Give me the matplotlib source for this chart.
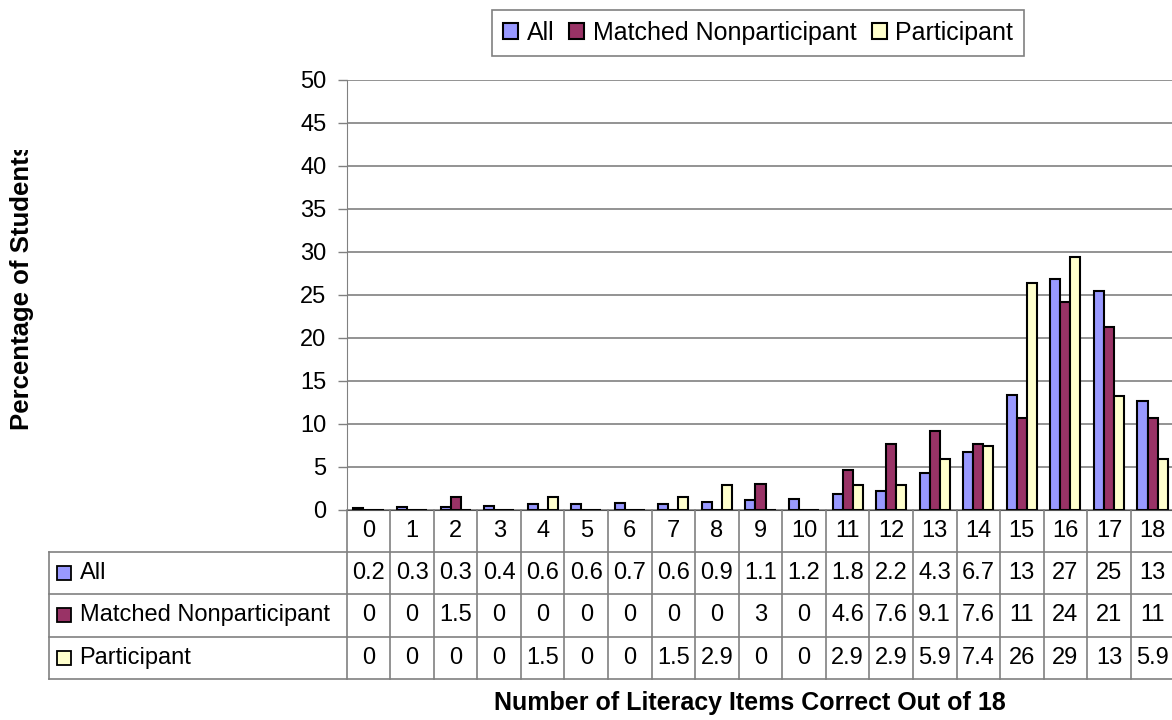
import numpy as np
import matplotlib.pyplot as plt
from matplotlib.transforms import Bbox

plt.rcParams['font.family'] = ['Liberation Sans', 'DejaVu Sans']

categories = list(range(19))
series_names = ["All", "Matched Nonparticipant", "Participant"]
all_pct = [0.2, 0.3, 0.3, 0.4, 0.6, 0.6, 0.7, 0.6, 0.9, 1.1, 1.2, 1.8, 2.2, 4.3, 6.7, 13.3, 26.8, 25.4, 12.6]
matched_pct = [0, 0, 1.5, 0, 0, 0, 0, 0, 0, 3.0, 0, 4.6, 7.6, 9.1, 7.6, 10.6, 24.2, 21.2, 10.6]
participant_pct = [0, 0, 0, 0, 1.5, 0, 0, 1.5, 2.9, 0, 0, 2.9, 2.9, 5.9, 7.4, 26.4, 29.4, 13.2, 5.9]
colors = ["#9999FF", "#993366", "#FFFFCC"]

W, H = 1172, 720
GRID = "#808080"

def fx(x):
    return x / W

def fy(y):
    return 1 - y / H

fig = plt.figure(figsize=(W / 100, H / 100), dpi=100)

# plot area (pixel layout)
left, right, top, base = 346.7, 1174.3, 80, 509.5
ax = fig.add_axes([fx(left), fy(base), (right - left) / W, (base - top) / H])
ax.set_xlim(-0.5, 18.5)
ax.set_ylim(0, 50)

x = np.arange(len(categories))
bw = 0.23
series = [all_pct, matched_pct, participant_pct]
handles = []
for i, (vals, c) in enumerate(zip(series, colors)):
    b = ax.bar(x + (i - 1) * bw, vals, bw, color=c, edgecolor="black", linewidth=1.5, zorder=3)
    handles.append(b)

ax.set_yticks(range(0, 51, 5))
ax.yaxis.grid(True, color=GRID, linewidth=1.2)
ax.set_axisbelow(True)
ax.set_xticks([])
for s in ["top", "right"]:
    ax.spines[s].set_visible(False)
ax.spines["left"].set_color(GRID)
ax.spines["bottom"].set_color("#555555")
ax.tick_params(axis="y", direction="out", length=6.5, color=GRID, width=1, pad=8, labelsize=17)

# data table below the plot
tleft, tbot = 48.6, 679
colw = (right - left) / 19
x0 = -0.5 - (left - tleft) / colw
axt = fig.add_axes([fx(tleft), fy(tbot), (right - tleft) / W, (tbot - base) / H])
axt.set_xlim(x0, 18.5)
axt.set_ylim(4, 0)
axt.axis("off")

for c in categories:
    axt.plot([c - 0.5, c - 0.5], [0, 4], color=GRID, lw=1.2, clip_on=False)
axt.plot([x0, x0], [1, 4], color=GRID, lw=1.2, clip_on=False)
for r in [1, 2, 3, 4]:
    axt.plot([x0, 18.5], [r, r], color=GRID, lw=1.2, clip_on=False)

for c in categories:
    axt.text(c, 0.5, str(c), ha="center", va="center", fontsize=17)
for r, (name, vals, col) in enumerate(zip(series_names, series, colors), start=1):
    axt.plot(x0 + 15.2 / colw, r + 0.5, marker="s", markersize=10, markerfacecolor=col,
             markeredgecolor="black", markeredgewidth=1.3, linestyle="none", clip_on=False)
    axt.text(x0 + 31 / colw, r + 0.5, name, ha="left", va="center", fontsize=17)
    for c, v in zip(categories, vals):
        axt.text(c, r + 0.5, "%.2g" % v, ha="center", va="center", fontsize=17)

# legend
leg = fig.legend(handles, series_names, loc="center", bbox_to_anchor=(fx(758), fy(33)),
                 ncol=3, fontsize=18, handlelength=0.6, handleheight=0.6,
                 handletextpad=0.35, columnspacing=0.6, borderpad=0.45,
                 fancybox=False, framealpha=1, edgecolor=GRID)
leg.get_frame().set_linewidth(1.2)

# axis titles
yl = fig.text(fx(22), fy(430), "Percentage of Students", rotation=90, ha="center", va="bottom",
              fontsize=18.5, fontweight="bold")
yl.set_clip_box(Bbox([[0, 0], [200, H - 150]]))
yl.set_clip_on(True)
fig.text(fx(750), fy(703), "Number of Literacy Items Correct Out of 18", ha="center", va="center",
         fontsize=18, fontweight="bold")

fig.savefig("out.png", dpi=100)
